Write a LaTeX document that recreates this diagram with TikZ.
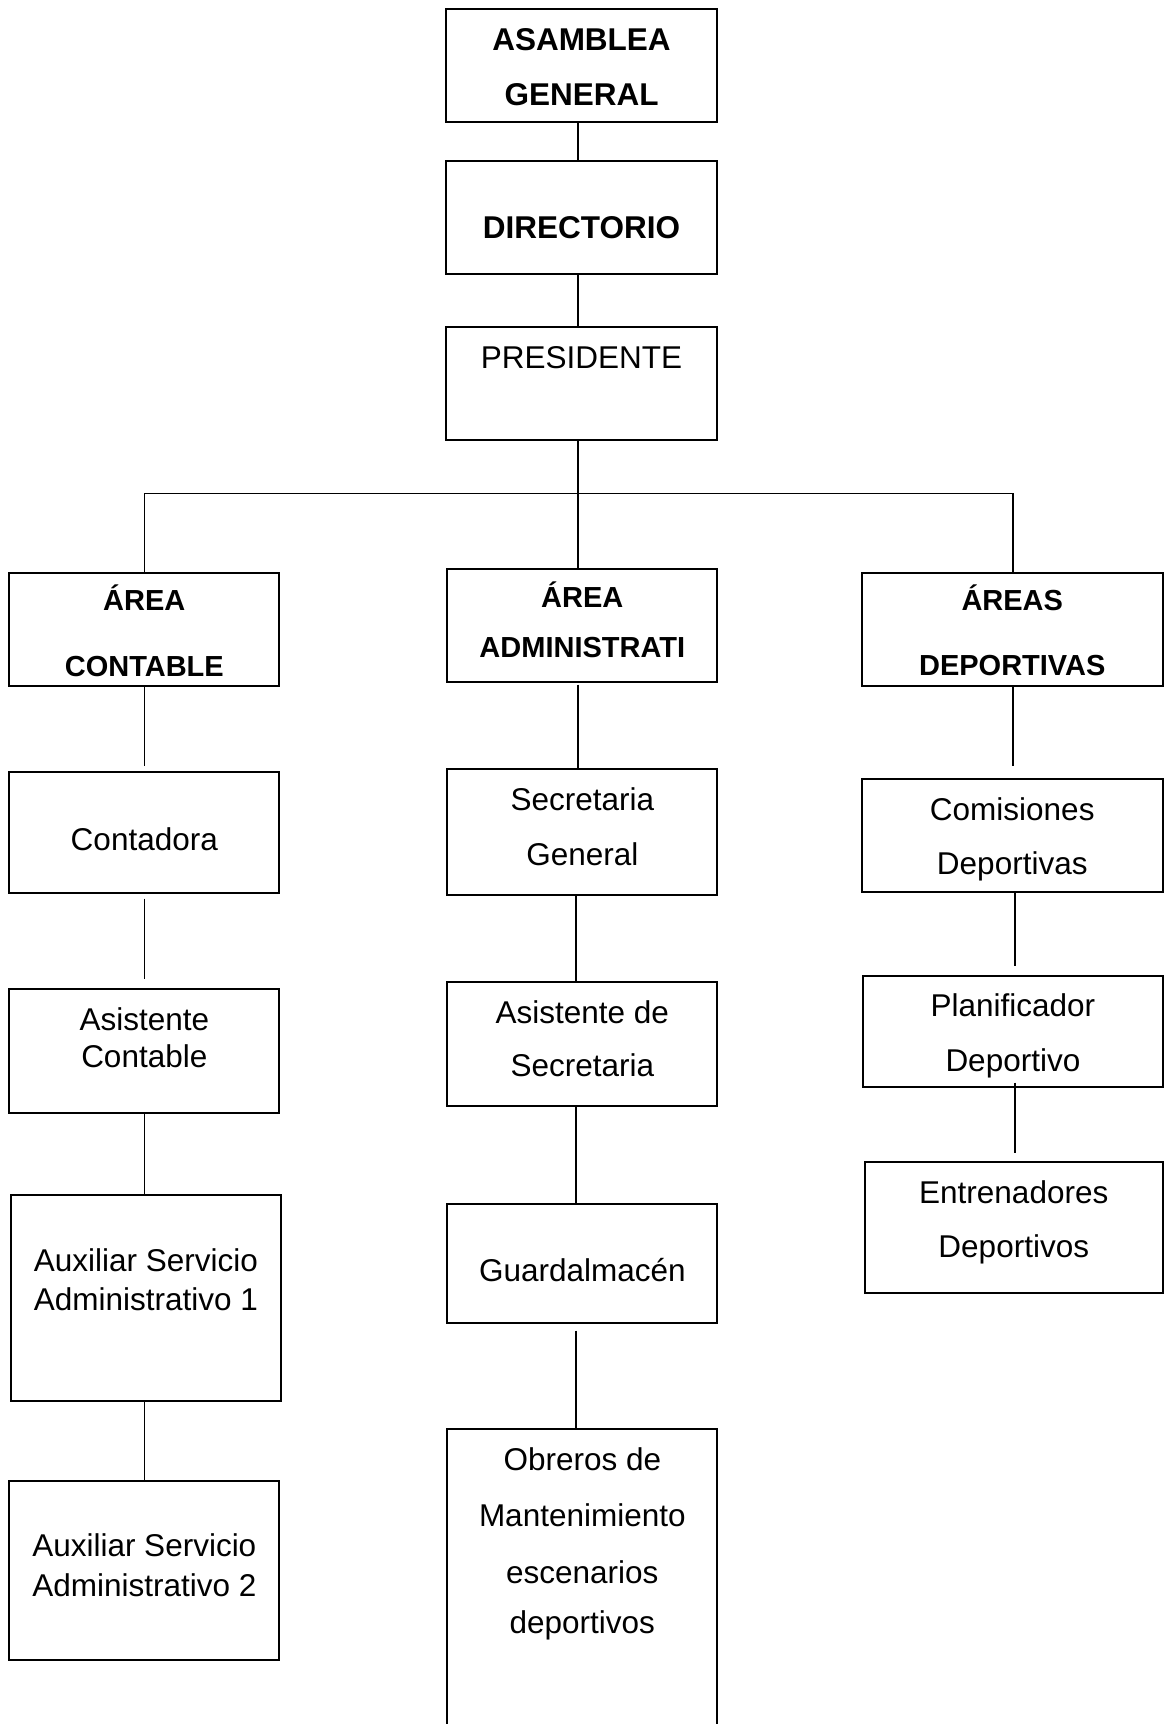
\documentclass[tikz,border=0pt]{standalone}
\usepackage{fontspec}
\setmainfont{Liberation Sans}
\begin{document}
\begin{tikzpicture}[x=1pt,y=-1pt,
  box/.style={draw,line width=2pt,rectangle,inner sep=0pt,outer sep=0pt},
  link/.style={line width=1.8pt},
  txt/.style={anchor=base,inner sep=0pt,font=\fontsize{31.5}{36}\selectfont},
  txtb/.style={anchor=base,inner sep=0pt,font=\fontsize{31.5}{36}\selectfont\bfseries},
  txta/.style={anchor=base,inner sep=0pt,font=\fontsize{29}{34}\selectfont\bfseries}]

% page
\fill[white] (0,0) rectangle (1164,1724);
\useasboundingbox (0,0) rectangle (1164,1724);

% column axes for the connectors
\coordinate (xL) at (144.5,0);
\coordinate (xM) at (577.7,0);
\coordinate (xMb) at (576,0);
\coordinate (xR) at (1012.7,0);
\coordinate (xRb) at (1015,0);
\coordinate (bus) at (577.7,493.5);

% top of the chart
\node[box,minimum width=271,minimum height=112.7] (asamblea) at (581.5,65.65) {};
\node[txtb] (asamblea1) at (581.5,50) {ASAMBLEA};
\node[txtb] (asamblea2) at (581.5,105) {GENERAL};

\node[box,minimum width=271,minimum height=113.3] (directorio) at (581.5,217.35) {};
\node[txtb] (directorio1) at (581.5,238) {DIRECTORIO};

\node[box,minimum width=271,minimum height=113.3] (presidente) at (581.5,383.35) {};
\node[txt] (presidente1) at (581.5,368) {PRESIDENTE};

% areas
\node[box,minimum width=270,minimum height=112.7] (acont) at (144.3,629.65) {};
\node[txta] (acont1) at (144.3,610.5) {ÁREA};
\node[txta] (acont2) at (144.3,676) {CONTABLE};

\node[box,minimum width=270,minimum height=113] (aadmin) at (582.3,625.2) {};
\node[txta] (aadmin1) at (582.3,607) {ÁREA};
\node[txta] (aadmin2) at (582.3,657.3) {ADMINISTRATI};

\node[box,minimum width=300.5,minimum height=112.7] (adep) at (1012.25,629.65) {};
\node[txta] (adep1) at (1012.25,610) {ÁREAS};
\node[txta] (adep2) at (1012.25,675) {DEPORTIVAS};

% accounting column
\node[box,minimum width=270,minimum height=120.7] (contadora) at (144.3,832.35) {};
\node[txt] (contadora1) at (144.3,850) {Contadora};

\node[box,minimum width=270,minimum height=124.3] (asistc) at (144.3,1051.15) {};
\node[txt] (asistc1) at (144.3,1030) {Asistente};
\node[txt] (asistc2) at (144.3,1067) {Contable};

\node[box,minimum width=269.7,minimum height=206] (aux1) at (145.85,1298) {};
\node[txt] (aux1a) at (145.85,1271.7) {Auxiliar Servicio};
\node[txt] (aux1b) at (145.85,1310) {Administrativo 1};

\node[box,minimum width=270,minimum height=179] (aux2) at (144.3,1570.5) {};
\node[txt] (aux2a) at (144.3,1556.7) {Auxiliar Servicio};
\node[txt] (aux2b) at (144.3,1596.7) {Administrativo 2};

% administrative column
\node[box,minimum width=270,minimum height=125.7] (secgen) at (582.3,832.15) {};
\node[txt] (secgen1) at (582.3,810) {Secretaria};
\node[txt] (secgen2) at (582.3,865) {General};

\node[box,minimum width=270,minimum height=124.3] (asists) at (582.3,1043.85) {};
\node[txt] (asists1) at (582.3,1023.3) {Asistente de};
\node[txt] (asists2) at (582.3,1076.7) {Secretaria};

\node[box,minimum width=270,minimum height=118.7] (guard) at (582.3,1263.35) {};
\node[txt] (guard1) at (582.3,1281.7) {Guardalmacén};

\node[box,minimum width=270,minimum height=310.7] (obreros) at (582.3,1584.65) {};
\node[txt] (obreros1) at (582.3,1470) {Obreros de};
\node[txt] (obreros2) at (582.3,1526.7) {Mantenimiento};
\node[txt] (obreros3) at (582.3,1583.3) {escenarios};
\node[txt] (obreros4) at (582.3,1633.3) {deportivos};

% sports column
\node[box,minimum width=300.5,minimum height=113.3] (comis) at (1012.25,835.65) {};
\node[txt] (comis1) at (1012.25,820) {Comisiones};
\node[txt] (comis2) at (1012.25,874.5) {Deportivas};

\node[box,minimum width=299.2,minimum height=111] (planif) at (1012.9,1031.2) {};
\node[txt] (planif1) at (1012.9,1016) {Planificador};
\node[txt] (planif2) at (1012.9,1071.7) {Deportivo};

\node[box,minimum width=297.5,minimum height=130.4] (entren) at (1013.75,1227.5) {};
\node[txt] (entren1) at (1013.75,1203) {Entrenadores};
\node[txt] (entren2) at (1013.75,1257.5) {Deportivos};

% connectors
\draw[link] (asamblea.south -| xM) -- (directorio.north -| xM);
\draw[link] (directorio.south -| xM) -- (presidente.north -| xM);
\draw[link] (presidente.south -| xM) -- (aadmin.north -| xM);
\draw[link] (acont.north -| xL) |- (bus) -| (adep.north -| xR);

\draw[link,shorten >=6pt] (acont.south -| xL) -- (contadora.north -| xL);
\draw[link,shorten <=6pt,shorten >=10pt] (contadora.south -| xL) -- (asistc.north -| xL);
\draw[link] (asistc.south -| xL) -- (aux1.north -| xL);
\draw[link] (aux1.south -| xL) -- (aux2.north -| xL);

\draw[link,shorten <=3pt] (aadmin.south -| xM) -- (secgen.north -| xM);
\draw[link] (secgen.south -| xMb) -- (asists.north -| xMb);
\draw[link] (asists.south -| xMb) -- (guard.north -| xMb);
\draw[link,shorten <=8pt] (guard.south -| xMb) -- (obreros.north -| xMb);

\draw[link,shorten >=13pt] (adep.south -| xR) -- (comis.north -| xR);
\draw[link,shorten >=10pt] (comis.south -| xRb) -- (planif.north -| xRb);
\draw[link,shorten <=-4pt,shorten >=9pt] (planif.south -| xRb) -- (entren.north -| xRb);
\end{tikzpicture}
\end{document}
